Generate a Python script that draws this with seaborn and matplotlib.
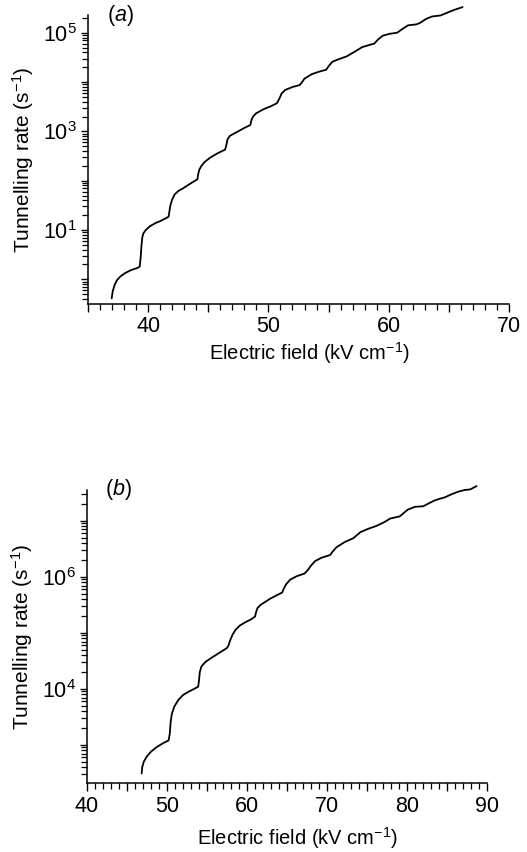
import numpy as np
import pandas as pd
import matplotlib
matplotlib.use("Agg")
import matplotlib.pyplot as plt
import matplotlib.ticker as mticker
import seaborn as sns

# ---- data ----
field_a = [36.97, 37.05, 37.2, 37.4, 37.7, 38.1, 38.6, 39.1, 39.3, 39.38, 39.45, 39.52,
           39.6, 39.8, 40.17, 40.6, 41.0, 41.4, 41.7, 41.75, 41.85, 42.0, 42.2, 42.5,
           42.9, 43.5, 44.1, 44.15, 44.25, 44.4, 44.7, 45.17, 45.8, 46.4, 46.5, 46.6,
           46.8, 47.4, 48.0, 48.5, 48.6, 48.75, 49.0, 49.6, 50.2, 50.7, 50.9, 51.1,
           51.4, 52.0, 52.6, 52.8, 53.0, 53.6, 54.2, 54.8, 55.0, 55.3, 55.8, 56.5,
           57.2, 57.8, 58.5, 58.8, 59.1, 59.5, 60.1, 60.7, 61.1, 61.6, 62.3, 62.6,
           63.1, 63.6, 64.3, 64.8, 65.4, 66.14]
log_rate_a = [-0.385, -0.25, -0.12, -0.02, 0.06, 0.13, 0.19, 0.23, 0.26, 0.45, 0.7, 0.86,
              0.93, 1.0, 1.08, 1.14, 1.18, 1.23, 1.27, 1.35, 1.5, 1.62, 1.72, 1.79,
              1.845, 1.94, 2.03, 2.12, 2.22, 2.29, 2.38, 2.47, 2.56, 2.63, 2.72, 2.84,
              2.91, 2.99, 3.07, 3.13, 3.24, 3.31, 3.37, 3.45, 3.51, 3.57, 3.66, 3.77,
              3.84, 3.90, 3.94, 4.0, 4.07, 4.16, 4.21, 4.25, 4.32, 4.41, 4.46, 4.52,
              4.62, 4.71, 4.76, 4.78, 4.86, 4.94, 4.98, 5.0, 5.07, 5.15, 5.17, 5.2,
              5.28, 5.33, 5.35, 5.40, 5.46, 5.52]

field_b = [46.83, 46.9, 47.1, 47.46, 48.0, 48.7, 49.5, 50.2, 50.35, 50.45, 50.6, 50.9,
           51.4, 52.0, 52.7, 53.4, 53.9, 54.0, 54.1, 54.3, 54.8, 55.4, 56.5, 57.5,
           57.7, 57.9, 58.2, 58.6, 59.1, 59.8, 60.5, 61.0, 61.1, 61.3, 61.7, 62.9,
           63.7, 64.4, 64.6, 64.9, 65.4, 66.2, 67.2, 67.6, 68.0, 68.5, 69.3, 70.4,
           70.7, 71.2, 72.2, 73.3, 73.7, 74.2, 75.2, 76.2, 77.2, 77.9, 79.1, 79.6,
           80.1, 81.0, 82.04, 82.7, 83.4, 84.0, 84.75, 85.5, 86.4, 87.2, 87.9, 88.7]
log_rate_b = [2.49, 2.6, 2.7, 2.79, 2.88, 2.96, 3.03, 3.08, 3.2, 3.4, 3.55, 3.68,
              3.80, 3.89, 3.95, 4.0, 4.04, 4.15, 4.3, 4.40, 4.48, 4.54, 4.64, 4.73,
              4.78, 4.87, 4.97, 5.06, 5.13, 5.19, 5.24, 5.29, 5.35, 5.44, 5.5, 5.61,
              5.67, 5.72, 5.79, 5.87, 5.95, 6.01, 6.06, 6.12, 6.2, 6.28, 6.34, 6.39,
              6.45, 6.53, 6.62, 6.69, 6.74, 6.80, 6.86, 6.91, 6.98, 7.04, 7.08, 7.14,
              7.20, 7.25, 7.26, 7.31, 7.36, 7.39, 7.42, 7.47, 7.52, 7.55, 7.56, 7.62]

panel_labels = ["a", "b"]
xlabel_text = "Electric field (kV cm$^{-1}$)"
ylabel_text = "Tunnelling rate (s$^{-1}$)"

sns.set_style("ticks")
plt.rcParams["font.family"] = ["Liberation Sans", "DejaVu Sans"]
plt.rcParams["mathtext.fontset"] = "custom"
plt.rcParams["mathtext.rm"] = "Liberation Sans"
plt.rcParams["mathtext.it"] = "Liberation Sans:italic"
plt.rcParams["mathtext.default"] = "regular"
plt.rcParams["text.color"] = "black"
plt.rcParams["axes.labelcolor"] = "black"

fig = plt.figure(figsize=(5.27, 8.52), dpi=100)
ax_a = fig.add_axes([88 / 527, 1 - 304 / 852, 421 / 527, 289 / 852])
ax_b = fig.add_axes([87 / 527, 1 - 783 / 852, 400 / 527, 293 / 852])

df_a = pd.DataFrame({"field": field_a, "rate": 10.0 ** np.array(log_rate_a)})
df_b = pd.DataFrame({"field": field_b, "rate": 10.0 ** np.array(log_rate_b)})

panels = [
    (ax_a, df_a, (35, 70), (10 ** -0.5, 10 ** 5.36), range(0, 6), {1, 3, 5}, panel_labels[0], -0.125),
    (ax_b, df_b, (40, 90), (10 ** 2.32, 10 ** 7.55), range(2, 8), {4, 6}, panel_labels[1], -0.145),
]

for ax, df, xlim, ylim, decades, labelled, plab, label_y in panels:
    sns.lineplot(data=df, x="field", y="rate", ax=ax, color="black", lw=1.3,
                 sort=False, estimator=None, clip_on=False)
    ax.set_yscale("log")
    ax.set_xlim(*xlim)
    ax.set_ylim(*ylim)
    ax.xaxis.set_major_locator(mticker.MultipleLocator(5))
    ax.xaxis.set_minor_locator(mticker.MultipleLocator(1))
    ax.xaxis.set_major_formatter(mticker.FuncFormatter(
        lambda v, p: f"{int(round(v))}" if int(round(v)) % 10 == 0 else ""))
    majors = [10.0 ** d for d in decades]
    ax.yaxis.set_major_locator(mticker.FixedLocator(majors))
    ax.yaxis.set_major_formatter(mticker.FixedFormatter(
        [f"$10^{{{d}}}$" if d in labelled else "" for d in decades]))
    ax.yaxis.set_minor_locator(mticker.LogLocator(base=10, subs=np.arange(2, 10), numticks=20))
    ax.yaxis.set_minor_formatter(mticker.NullFormatter())
    ax.tick_params(axis="both", which="major", direction="out", length=6, width=1,
                   labelsize=15.5, color="black", labelcolor="black", pad=3)
    ax.tick_params(axis="both", which="minor", direction="out", length=4, width=0.9,
                   color="black")
    ax.tick_params(axis="y", which="major", length=5)
    for s in ["top", "right"]:
        ax.spines[s].set_visible(False)
    for s in ["left", "bottom"]:
        ax.spines[s].set_linewidth(1.1)
        ax.spines[s].set_color("black")
    ax.set_xlabel(xlabel_text, fontsize=14.5, color="black")
    ax.xaxis.set_label_coords(0.525, label_y)
    ax.set_ylabel(ylabel_text, fontsize=15, labelpad=5, color="black")
    ax.text(0.045, 1.0, f"($\\it{{{plab}}}$)", transform=ax.transAxes,
            fontsize=15.5, ha="left", va="center", color="black")

fig.savefig("out.png", dpi=100)
